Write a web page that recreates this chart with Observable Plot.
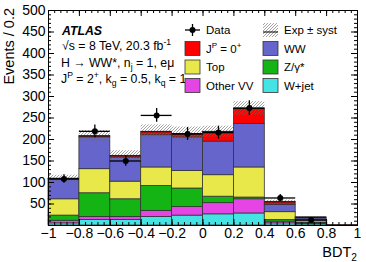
<!DOCTYPE html>
<html><head><meta charset="utf-8">
<script src="https://cdn.jsdelivr.net/npm/d3@7"></script>
<script src="https://cdn.jsdelivr.net/npm/@observablehq/plot@0.6"></script>
<style>body{margin:0;background:#fff}#chart{width:366px;height:262px}</style>
</head><body><div id="chart"></div>
<script>
// ---- data ----
const binEdges = [-1, -0.8, -0.6, -0.4, -0.2, 0, 0.2, 0.4, 0.6, 0.8, 1];
const wjet    = [5, 13, 13, 20, 23, 26, 28, 5, 3, 0];
const otherVV = [6, 7, 7, 14, 20, 26, 33, 4, 2, 0];
const zgamma  = [12, 55, 41, 58, 43, 15, 4, 4, 2, 0];
const topQ    = [38, 56, 41, 43, 41, 50, 70, 18, 4, 0];
const ww      = [47, 74, 56, 75, 78, 78, 101, 17, 5.5, 0];
const spin0   = [1, 3, 4, 8, 8, 23, 36, 7, 2.5, 0.8];
const expSyst = [8, 13, 12, 16, 16, 13, 16, 4, 2, 0.5];
const dataX   = [-0.9, -0.7, -0.5, -0.3, -0.1, 0.1, 0.3, 0.5, 0.7];
const dataY   = [108, 219, 150, 256, 213, 216, 273, 64, 13];
const dataErr = [10, 15, 12, 16, 15, 15, 17, 8, 3.6];
const processes = ["W+jet", "Other VV", "Z/γ*", "Top", "WW", "Spin0"];
const colors    = ["#45e4e4", "#e645e6", "#14b414", "#e8e84a", "#6565cc", "#ff0000"];
const xTicks = [-1, -0.8, -0.6, -0.4, -0.2, 0, 0.2, 0.4, 0.6, 0.8, 1];
const xTickLabels = ["−1", "−0.8", "−0.6", "−0.4", "−0.2", "0", "0.2", "0.4", "0.6", "0.8", "1"];
const yTicks = [50, 100, 150, 200, 250, 300, 350, 400, 450, 500];
const yTickLabels = ["50", "100", "150", "200", "250", "300", "350", "400", "450", "500"];

// ---- tables ----
const series = [wjet, otherVV, zgamma, topQ, ww, spin0];
const stackRows = [];
const totals = [];
for (let i = 0; i < binEdges.length - 1; i++) {
  let cum = 0;
  series.forEach((s, p) => {
    stackRows.push({x1: binEdges[i], x2: binEdges[i + 1], y1: cum, y2: cum + s[i], process: processes[p]});
    cum += s[i];
  });
  totals.push({x1: binEdges[i], x2: binEdges[i + 1], total: cum, lo: cum - expSyst[i], hi: cum + expSyst[i]});
}
const dataRows = dataX.map((x, i) => ({x, y: dataY[i], lo: dataY[i] - dataErr[i], hi: dataY[i] + dataErr[i], x1: x - 0.1, x2: x + 0.1}));
const xMinor = d3.range(0, 51).map(i => -1 + i * 0.04);
const yMinor = d3.range(1, 51).map(i => i * 10);

const W = 366, H = 262, mT = 10, mR = 9, mB = 37, mL = 48;
const fW = W - mL - mR, fH = H - mT - mB;

const svg = Plot.plot({
  width: W, height: H, marginTop: mT, marginRight: mR, marginBottom: mB, marginLeft: mL,
  x: {domain: [-1, 1]},
  y: {domain: [0, 500]},
  color: {domain: processes, range: colors},
  style: {fontFamily: "'Liberation Sans', Arial, sans-serif", fontSize: "14px", color: "black", background: "white"},
  marks: [
    Plot.rect(stackRows, {x1: "x1", x2: "x2", y1: "y1", y2: "y2", fill: "process", stroke: "#333", strokeWidth: 0.8}),
    Plot.rect(totals, {x1: "x1", x2: "x2", y1: "lo", y2: "hi", fill: "url(#hatch)"}),
    Plot.ruleY(totals, {x1: "x1", x2: "x2", y: "total", stroke: "#111", strokeWidth: 1.1}),
    Plot.ruleY(dataRows, {x1: "x1", x2: "x2", y: "y", stroke: "black", strokeWidth: 1.3}),
    Plot.ruleX(dataRows, {x: "x", y1: "lo", y2: "hi", stroke: "black", strokeWidth: 1.3}),
    Plot.dot(dataRows, {x: "x", y: "y", r: 3, fill: "black"}),
    Plot.frame({stroke: "black", strokeWidth: 1}),
    Plot.tickX(xTicks, {x: d => d, insetTop: fH - 6, stroke: "black"}),
    Plot.tickX(xTicks, {x: d => d, insetBottom: fH - 6, stroke: "black"}),
    Plot.tickX(xMinor, {x: d => d, insetTop: fH - 3, stroke: "black"}),
    Plot.tickX(xMinor, {x: d => d, insetBottom: fH - 3, stroke: "black"}),
    Plot.tickY(yTicks, {y: d => d, insetRight: fW - 6, stroke: "black"}),
    Plot.tickY(yTicks, {y: d => d, insetLeft: fW - 6, stroke: "black"}),
    Plot.tickY(yMinor, {y: d => d, insetRight: fW - 3, stroke: "black"}),
    Plot.tickY(yMinor, {y: d => d, insetLeft: fW - 3, stroke: "black"}),
    Plot.axisX({ticks: xTicks, tickFormat: d => xTickLabels[xTicks.indexOf(d)], tickSize: 0, tickPadding: 3, label: null, fontSize: 14}),
    Plot.axisY({ticks: yTicks, tickFormat: d => yTickLabels[yTicks.indexOf(d)], tickSize: 0, tickPadding: 3, label: null, fontSize: 14})
  ]
});

const s = d3.select(svg);
const defs = s.insert("defs", ":first-child");
const pat = defs.append("pattern").attr("id", "hatch").attr("patternUnits", "userSpaceOnUse").attr("width", 3).attr("height", 3);
pat.append("path").attr("d", "M-1,1 l2,-2 M0,3 l3,-3 M2,4 l2,-2").attr("stroke", "#666").attr("stroke-width", 0.8).attr("stroke-opacity", 0.75);

const ff = "'Liberation Sans', Arial, sans-serif";
function rich(x, y, parts, size, opts = {}) {
  const t = s.append("text").attr("x", x).attr("y", y).attr("font-size", size).attr("font-family", ff).attr("fill", "black")
    .attr("text-anchor", opts.anchor || "start");
  if (opts.weight) t.attr("font-weight", opts.weight);
  if (opts.style) t.attr("font-style", opts.style);
  if (opts.transform) t.attr("transform", opts.transform).attr("x", 0).attr("y", 0);
  let shift = 0;
  for (const [str, mode] of parts) {
    const sp = t.append("tspan").text(str);
    const target = mode === "sup" ? -0.38 * size : mode === "sub" ? 0.28 * size : 0;
    if (target - shift !== 0) sp.attr("dy", target - shift);
    shift = target;
    if (mode !== "n") sp.attr("font-size", size * 0.7);
  }
  return t;
}

// axis titles
rich(0, 0, [["Events / 0.2", "n"]], 14.5, {anchor: "end", transform: "translate(13.5,8) rotate(-90)"});
rich(357, 257, [["BDT", "n"], ["2", "sub"]], 14.5, {anchor: "end"});

// ATLAS label
rich(62, 35, [["ATLAS", "n"]], 12.3, {weight: "bold", style: "italic"});
rich(62, 50, [["√s = 8 TeV, 20.3 fb", "n"], ["-1", "sup"]], 12.3);
rich(61, 66.5, [["H → WW*, n", "n"], ["j", "sub"], [" = 1, eμ", "n"]], 12.3);
rich(61, 83, [["J", "n"], ["P", "sup"], [" = 2", "n"], ["+", "sup"], [", k", "n"], ["g", "sub"], [" = 0.5, k", "n"], ["q", "sub"], [" = 1", "n"]], 12.3);

// legend
const lg = 11.5;
const rowY = [30, 48.5, 67, 85.5];
const c1 = 185, c2 = 263, sw = 15, sh = 14;
// Data
s.append("line").attr("x1", c1).attr("x2", c1 + sw).attr("y1", rowY[0]).attr("y2", rowY[0]).attr("stroke", "black").attr("stroke-width", 1.3);
s.append("line").attr("x1", c1 + sw / 2).attr("x2", c1 + sw / 2).attr("y1", rowY[0] - 6).attr("y2", rowY[0] + 6).attr("stroke", "black").attr("stroke-width", 1.3);
s.append("circle").attr("cx", c1 + sw / 2).attr("cy", rowY[0]).attr("r", 3).attr("fill", "black");
rich(206, rowY[0] + 4, [["Data", "n"]], lg);
// Exp ± syst
s.append("rect").attr("x", c2).attr("y", rowY[0] - 7).attr("width", sw).attr("height", sh).attr("fill", "url(#hatch)");
s.append("line").attr("x1", c2).attr("x2", c2 + sw).attr("y1", rowY[0] + 2).attr("y2", rowY[0] + 2).attr("stroke", "#111").attr("stroke-width", 1.1);
rich(284, rowY[0] + 4, [["Exp ± syst", "n"]], lg);
// swatches
const legendItems = [
  {col: c1, row: 1, color: colors[5], parts: [["J", "n"], ["P", "sup"], [" = 0", "n"], ["+", "sup"]]},
  {col: c2, row: 1, color: colors[4], parts: [["WW", "n"]]},
  {col: c1, row: 2, color: colors[3], parts: [["Top", "n"]]},
  {col: c2, row: 2, color: colors[2], parts: [["Z/γ*", "n"]]},
  {col: c1, row: 3, color: colors[1], parts: [["Other VV", "n"]]},
  {col: c2, row: 3, color: colors[0], parts: [["W+jet", "n"]]}
];
for (const it of legendItems) {
  s.append("rect").attr("x", it.col).attr("y", rowY[it.row] - 7).attr("width", sw).attr("height", sh)
    .attr("fill", it.color).attr("stroke", "#333").attr("stroke-width", 0.8);
  rich(it.col + 21, rowY[it.row] + 4, it.parts, lg);
}

document.getElementById("chart").appendChild(svg);
</script>
</body></html>
